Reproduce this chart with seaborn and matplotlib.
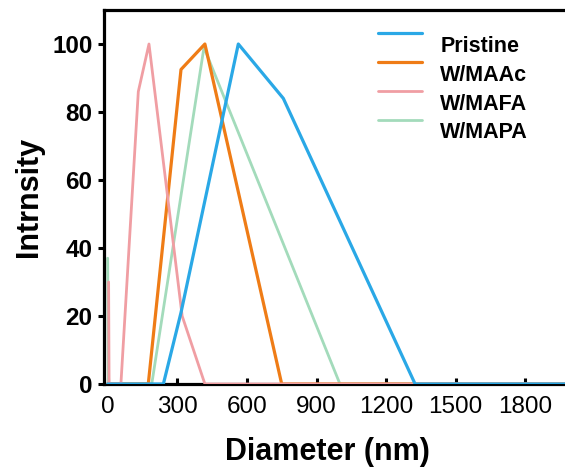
import numpy as np
import pandas as pd
import matplotlib
matplotlib.use('Agg')
import matplotlib.pyplot as plt
import seaborn as sns
from matplotlib.legend_handler import HandlerLine2D

sns.set_style('white')
plt.rcParams['font.family'] = ['Liberation Sans', 'DejaVu Sans']
plt.rcParams['text.color'] = 'black'
plt.rcParams['axes.labelcolor'] = 'black'
plt.rcParams['xtick.color'] = 'black'
plt.rcParams['ytick.color'] = 'black'

# data
diam_pristine = [0, 240, 316, 563, 757, 1325, 2000]
int_pristine = [0, 0, 21, 100, 84, 0, 0]

diam_maac = [0, 175, 316, 419, 750, 2000]
int_maac = [0, 0, 92.5, 100, 0, 0]

diam_mafa = [4, 6, 57, 132, 178, 321, 419, 2000]
int_mafa = [30, 0, 0, 86, 100, 20, 0, 0]

diam_mapa = [0, 3, 190, 415, 1001, 2000]
int_mapa = [37, 0, 0, 99, 0, 0]

samples = ['Pristine', 'W/MAAc', 'W/MAFA', 'W/MAPA']
colors = ['#2aa8e6', '#ef7c16', '#f09ea3', '#a3dbbb']
widths = [2.3, 2.3, 2.0, 2.0]
zorders = [5, 3, 4, 2]

x_ticks = [0, 300, 600, 900, 1200, 1500, 1800]
y_ticks = [0, 20, 40, 60, 80, 100]

frames = []
for name, d, v in zip(samples,
                      [diam_pristine, diam_maac, diam_mafa, diam_mapa],
                      [int_pristine, int_maac, int_mafa, int_mapa]):
    frames.append(pd.DataFrame({'diameter': d, 'intensity': v, 'sample': name}))
df = pd.concat(frames, ignore_index=True)

fig = plt.figure(figsize=(5.65, 4.67), dpi=100)
ax = fig.add_axes([104.2 / 565, 1 - 384 / 467, 460.8 / 565, 374 / 467])

for name, c, lw, z in zip(samples, colors, widths, zorders):
    sub = df[df['sample'] == name]
    sns.lineplot(data=sub, x='diameter', y='intensity', ax=ax, color=c,
                 lw=lw, estimator=None, sort=False, label=name, zorder=z)

ax.set_xlim(-15, 1971)
ax.set_ylim(0, 110)
ax.set_xticks(x_ticks)
ax.set_yticks(y_ticks)

for side in ['left', 'top', 'bottom']:
    ax.spines[side].set_linewidth(2.3)
    ax.spines[side].set_color('black')
ax.spines['right'].set_visible(False)

ax.tick_params(axis='y', direction='out', length=4, width=2.2, pad=4.5,
               labelsize=17.5, left=True)
ax.tick_params(axis='x', direction='in', length=4, width=2.2, pad=8.5,
               labelsize=17.5, bottom=True)
for t in ax.get_yticklabels():
    t.set_fontweight('bold')

ax.set_xlabel('Diameter (nm)', fontsize=22, fontweight='bold')
ax.set_ylabel('Intrnsity', fontsize=22, fontweight='bold')
ax.xaxis.set_label_coords(0.485, -0.142)
ax.yaxis.set_label_coords(-0.13, 0.5)


class RaisedLine(HandlerLine2D):
    def create_artists(self, legend, orig_handle, xdescent, ydescent,
                       width, height, fontsize, trans):
        arts = super().create_artists(legend, orig_handle, xdescent, ydescent,
                                      width, height, fontsize, trans)
        for a in arts:
            a.set_ydata(np.asarray(a.get_ydata()) + 8.0)
        return arts


handles, labels = ax.get_legend_handles_labels()
ax.legend(handles, labels, loc='upper left',
          bbox_to_anchor=(378 / 565, 1 - 36 / 467),
          bbox_transform=fig.transFigure, frameon=False,
          prop={'weight': 'bold', 'size': 15.5},
          handlelength=2.05, handletextpad=0.85, labelspacing=0.36,
          borderpad=0, borderaxespad=0,
          handler_map={h: RaisedLine() for h in handles})

plt.savefig('out.png', dpi=100)
